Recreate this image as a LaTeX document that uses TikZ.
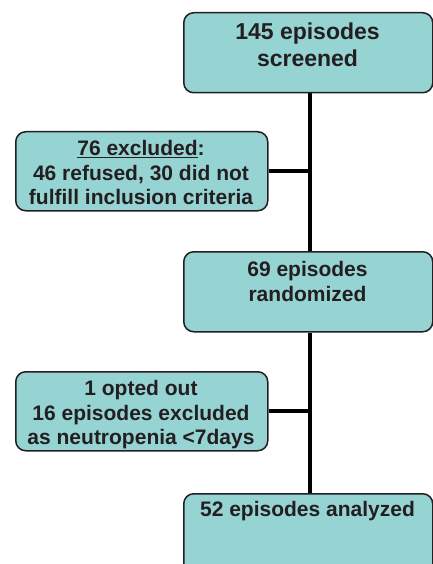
\documentclass[tikz,border=0pt]{standalone}
\usepackage{fontspec}
\setmainfont{Liberation Sans}
\usetikzlibrary{backgrounds}
\definecolor{boxfill}{HTML}{96D3D3}
\definecolor{ink}{HTML}{231F20}
\begin{document}
\begin{tikzpicture}[x=1pt,y=-1pt,
  box/.style={draw=ink, line width=1.5pt, fill=boxfill, rounded corners=10pt, inner sep=0pt, anchor=north west},
  lbl/.style={text=ink, font=\bfseries\fontsize{21}{25}\selectfont, align=center, inner sep=0pt, anchor=north},
  big/.style={font=\bfseries\fontsize{23}{27}\selectfont},
  side/.style={font=\bfseries\fontsize{21}{24.2}\selectfont},
  link/.style={line width=4pt, draw=black}]
\useasboundingbox (0,0) rectangle (433,564);
\clip (0,0) rectangle (433,564);
% boxes
\node[box, minimum width=249pt, minimum height=80pt] (top) at (183,12) {};
\node[box, minimum width=252pt, minimum height=79pt] (ex1) at (15,131) {};
\node[box, minimum width=249pt, minimum height=80pt] (mid) at (183,251) {};
\node[box, minimum width=252pt, minimum height=79pt] (ex2) at (15,371) {};
\node[box, minimum width=249pt, minimum height=90pt] (fin) at (183,493) {};
% spine coordinates
\coordinate (s1) at ([xshift=1.5pt]top.south);
\coordinate (s2) at ([xshift=1.5pt]mid.north);
\coordinate (s3) at ([xshift=1.5pt]mid.south);
\coordinate (s4) at ([xshift=1.5pt]fin.north);
% connectors, behind the boxes
\begin{scope}[on background layer]
\draw[link] (s1) -- (s2);
\draw[link] (s3) -- (s4);
\draw[link] (ex1.east) -- (ex1.east -| s1);
\draw[link] (ex2.east) -- (ex2.east -| s1);
\end{scope}
% texts
\node[lbl, big] (t1) at (307.5,22.5) {145 episodes\\screened};
\node[lbl, side] (t2) at (141,140.5) {\underline{76 excluded}:\\46 refused, 30 did not\\fulfill inclusion criteria};
\node[lbl] (t3) at (307.5,261) {69 episodes\\randomized};
\node[lbl, side] (t4) at (141,380.5) {1 opted out\\16 episodes excluded\\as neutropenia <7days};
\node[lbl] (t5) at (307.5,501.5) {52 episodes analyzed};
\end{tikzpicture}
\end{document}
